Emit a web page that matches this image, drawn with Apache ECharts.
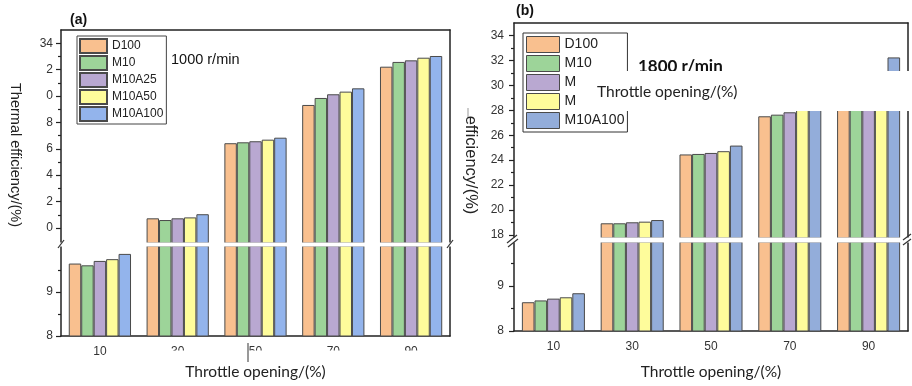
<!DOCTYPE html>
<html>
<head>
<meta charset="utf-8">
<script src="https://cdn.jsdelivr.net/npm/echarts@6/dist/echarts.min.js"></script>
<style>
  html, body { margin: 0; padding: 0; background: #fff; }
  #main { width: 912px; height: 386px; }
</style>
</head>
<body>
<div id="main"></div>
<script>
var categories = ['10', '30', '50', '70', '90'];
var seriesNames = ['D100', 'M10', 'M10A25', 'M10A50', 'M10A100'];
var colorsA = ['#F9C08F', '#9DD499', '#B9A8D1', '#FEFC9B', '#93B4EC'];
var colorsB = ['#F9C08F', '#9DD499', '#B9A8D1', '#FEFC9B', '#93ADDA'];

// (a) 1000 r/min
var aD100    = [9.65, 20.73, 26.42, 29.32, 32.22];
var aM10     = [9.61, 20.60, 26.49, 29.85, 32.58];
var aM10A25  = [9.71, 20.73, 26.57, 30.13, 32.70];
var aM10A50  = [9.75, 20.80, 26.69, 30.33, 32.90];
var aM10A100 = [9.87, 21.04, 26.84, 30.58, 33.03];

// (b) 1800 r/min
var bD100    = [8.64, 18.94, 24.46, 27.52, 30.40];
var bM10     = [8.68, 18.94, 24.50, 27.65, 30.60];
var bM10A25  = [8.72, 19.02, 24.58, 27.84, 30.80];
var bM10A50  = [8.75, 19.07, 24.72, 28.20, 31.00];
var bM10A100 = [8.84, 19.20, 25.17, 28.60, 32.24];

// tick values / labels
var aUpperTicks = [20, 22, 24, 26, 28, 30, 32, 34];
var aUpperTickLabels = ['0', '2', '4', '6', '8', '0', '2', '34'];
var aUpperMinor = [21, 23, 25, 27, 29, 31, 33];
var bUpperTicks = [18, 20, 22, 24, 26, 28, 30, 32, 34];
var bUpperMinor = [19, 21, 23, 25, 27, 29, 31, 33];
var lowerTicks = [8, 9];
var lowerMinor = [8.5, 9.5];

var dataA = [aD100, aM10, aM10A25, aM10A50, aM10A100];
var dataB = [bD100, bM10, bM10A25, bM10A50, bM10A100];

var myChart = echarts.init(document.getElementById('main'));

var lineStyle = { color: '#222', width: 1.5 };
var labelFont = { fontFamily: 'Liberation Sans', fontSize: 12, color: '#333' };

function topAxis(grid) {
    return { type: 'category', gridIndex: grid, position: 'top', data: categories,
        axisLine: { lineStyle: lineStyle }, axisTick: { show: false }, axisLabel: { show: false } };
}
function bottomAxis(grid, margin, nameGap) {
    return { type: 'category', gridIndex: grid, position: 'bottom', data: categories,
        axisLine: { lineStyle: lineStyle },
        axisTick: { length: 3, lineStyle: { color: '#222', width: 1.2 } },
        axisLabel: Object.assign({ margin: margin }, labelFont),
        name: 'Throttle opening/(%)', nameLocation: 'middle', nameGap: nameGap,
        nameTextStyle: { fontFamily: 'Lato', fontSize: 15.5, color: '#222' } };
}
function centerTickAxis(grid) {
    return { type: 'category', gridIndex: grid, position: 'bottom', data: categories,
        axisLine: { show: false },
        axisTick: { alignWithLabel: true, length: 6, lineStyle: { color: '#222', width: 1.5 } },
        axisLabel: { show: false } };
}
function leftAxis(grid, min, max, ticks, labels, margin) {
    return { type: 'value', gridIndex: grid, position: 'left', min: min, max: max,
        splitLine: { show: false },
        axisLine: { show: true, lineStyle: lineStyle },
        axisTick: { show: true, length: 5, customValues: ticks, lineStyle: { color: '#222', width: 1.2 } },
        axisLabel: Object.assign({ margin: margin, customValues: ticks,
            formatter: function (v) {
                var i = ticks.indexOf(v);
                return labels ? labels[i] : String(v);
            } }, labelFont) };
}
function minorAxis(grid, min, max, ticks) {
    return { type: 'value', gridIndex: grid, position: 'left', min: min, max: max,
        splitLine: { show: false }, axisLine: { show: false },
        axisTick: { show: true, length: 3, customValues: ticks, lineStyle: { color: '#222', width: 1.2 } },
        axisLabel: { show: false, customValues: ticks } };
}
function rightAxis(grid, min, max) {
    return { type: 'value', gridIndex: grid, position: 'right', min: min, max: max,
        splitLine: { show: false }, axisLine: { show: true, lineStyle: lineStyle },
        axisTick: { show: false }, axisLabel: { show: false } };
}

var series = [];
function addBars(data, colors, xIdx, yIdx) {
    for (var i = 0; i < seriesNames.length; i++) {
        series.push({
            type: 'bar', name: seriesNames[i], xAxisIndex: xIdx, yAxisIndex: yIdx,
            data: data[i], barGap: '0%', barCategoryGap: '20%',
            itemStyle: { color: colors[i], borderColor: '#4a4a4a', borderWidth: 1 }
        });
    }
}
addBars(dataA, colorsA, 0, 0);
addBars(dataA, colorsA, 1, 3);
addBars(dataB, colorsB, 3, 6);
addBars(dataB, colorsB, 4, 9);

var legendB = seriesNames.map(function (n, i) {
    return { name: n, itemStyle: { color: colorsB[i], borderColor: '#4a4a4a', borderWidth: 1 } };
});

function slash(x1, y1, x2, y2) {
    return { type: 'line', z: 120, shape: { x1: x1, y1: y1, x2: x2, y2: y2 },
        style: { stroke: '#333', lineWidth: 1.2 } };
}

var option = {
    animation: false,
    backgroundColor: '#fff',
    grid: [
        { left: 61, top: 30, width: 389, height: 213 },
        { left: 61, top: 246, width: 389, height: 90 },
        { left: 514, top: 23, width: 394, height: 215 },
        { left: 514, top: 242, width: 394, height: 89 }
    ],
    xAxis: [
        topAxis(0), bottomAxis(1, 10, 28), centerTickAxis(1),
        topAxis(2), bottomAxis(3, 10, 33), centerTickAxis(3)
    ],
    yAxis: [
        leftAxis(0, 18.86, 35, aUpperTicks, aUpperTickLabels, 8),
        minorAxis(0, 18.86, 35, aUpperMinor),
        rightAxis(0, 18.86, 35),
        leftAxis(1, 8, 10.05, lowerTicks, null, 8),
        minorAxis(1, 8, 10.05, lowerMinor),
        rightAxis(1, 8, 10.05),
        leftAxis(2, 17.76, 35, bUpperTicks, null, 10),
        minorAxis(2, 17.76, 35, bUpperMinor),
        rightAxis(2, 17.76, 35),
        leftAxis(3, 8, 9.98, lowerTicks, null, 10),
        minorAxis(3, 8, 9.98, lowerMinor),
        rightAxis(3, 8, 9.98)
    ],
    legend: [
        { left: 77, top: 36, orient: 'vertical', icon: 'rect', data: seriesNames,
          itemWidth: 27, itemHeight: 14, itemGap: 1, itemTextGap: 4,
          padding: [2, 3, 2, 2], borderColor: '#444', borderWidth: 1, backgroundColor: '#fff',
          selectedMode: false,
          textStyle: { fontFamily: 'Liberation Sans', fontSize: 12, color: '#222' } },
        { left: 523, top: 33, orient: 'vertical', icon: 'rect', data: legendB,
          itemWidth: 33, itemHeight: 16, itemGap: 2, itemTextGap: 4,
          padding: [3, 3, 3, 3], borderColor: '#333', borderWidth: 1, backgroundColor: '#fff',
          selectedMode: false,
          textStyle: { fontFamily: 'Liberation Sans', fontSize: 14, color: '#222' } }
    ],
    series: series,
    graphic: [
        { type: 'text', x: 70, y: 20, z: 50, style: { text: '(a)', font: 'bold 14px "Liberation Sans"', fill: '#111', textVerticalAlign: 'middle' } },
        { type: 'text', x: 516, y: 11, z: 50, style: { text: '(b)', font: 'bold 14px "Liberation Sans"', fill: '#111', textVerticalAlign: 'middle' } },
        { type: 'text', x: 171, y: 60, z: 50, style: { text: '1000 r/min', font: '14.5px "Liberation Sans"', fill: '#111', textVerticalAlign: 'middle' } },
        { type: 'text', x: 638, y: 67, z: 50, style: { text: '1800 r/min', font: 'bold 17px Lato', fill: '#111', textVerticalAlign: 'middle' } },
        { type: 'text', x: 15, y: 155, z: 50, rotation: -Math.PI / 2,
          style: { text: 'Thermal efficiency/(%)', font: '14.5px "Liberation Sans"', fill: '#222', textAlign: 'center', textVerticalAlign: 'middle' } },
        { type: 'text', x: 471, y: 165, z: 50, rotation: -Math.PI / 2,
          style: { text: 'efficiency/(%)', font: '16.5px "Liberation Sans"', fill: '#222', textAlign: 'center', textVerticalAlign: 'middle' } },
        { type: 'line', z: 50, shape: { x1: 468, y1: 108, x2: 468, y2: 117 }, style: { stroke: '#999', lineWidth: 1 } },
        // axis breaks
        { type: 'rect', z: 110, shape: { x: 54, y: 242.5, width: 402, height: 4 }, style: { fill: '#fff' } },
        { type: 'rect', z: 110, shape: { x: 506, y: 237.5, width: 406, height: 5 }, style: { fill: '#fff' } },
        slash(58, 248, 64, 240), slash(447, 248, 453, 240),
        slash(507, 243, 517, 235), slash(508, 247, 518, 239),
        slash(903, 240, 911, 234), slash(903, 245, 911, 239),
        // covered x labels in (a)
        { type: 'rect', z: 110, shape: { x: 125, y: 350.5, width: 330, height: 11 }, style: { fill: '#fff' } },
        { type: 'line', z: 111, shape: { x1: 248, y1: 343, x2: 248, y2: 362 }, style: { stroke: '#777', lineWidth: 1.5 } },
        // overlay in (b)
        { type: 'rect', z: 130, shape: { x: 577, y: 71, width: 335, height: 40 }, style: { fill: '#fff' } },
        { type: 'text', x: 597, y: 92, z: 131, style: { text: 'Throttle opening/(%)', font: '15.5px Lato', fill: '#222', textVerticalAlign: 'middle' } }
    ]
};

myChart.setOption(option);
</script>
</body>
</html>
